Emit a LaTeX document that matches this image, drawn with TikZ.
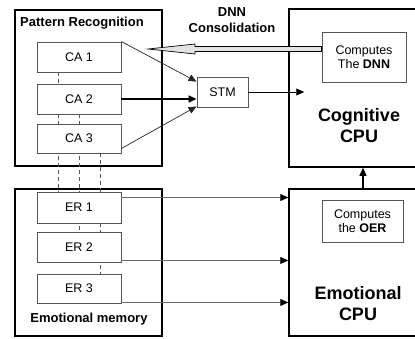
\documentclass[tikz,border=0pt]{standalone}
\usepackage{fontspec}
\setmainfont{Liberation Sans}
\usetikzlibrary{calc,arrows.meta}
\definecolor{linegray}{HTML}{555555}
\definecolor{arrgray}{HTML}{6A6A6A}
\tikzset{
  outerbox/.style={draw=black, line width=1.5pt, fill=white, inner sep=0pt},
  innerbox/.style={draw=linegray, line width=0.9pt, fill=white, inner sep=0pt,
     font=\fontsize{12.5}{14.5}\selectfont},
  boldlabel/.style={font=\bfseries\fontsize{13}{15}\selectfont, inner sep=0pt},
  biglabel/.style={font=\bfseries\fontsize{18}{21}\selectfont, align=center, inner sep=0pt},
  tip/.style={-{Triangle[length=8pt,width=7pt]}},
  graytip/.style={-{Triangle[length=8pt,width=7pt,color=black]}},
  dashv/.style={draw=linegray, line width=0.7pt, dash pattern=on 4pt off 3pt},
}
\begin{document}
\begin{tikzpicture}[x=1pt,y=-1pt]
\useasboundingbox (0,0) rectangle (415,338);
\clip (0,0) rectangle (415,338);
% outer boxes
\node[outerbox, minimum width=147pt, minimum height=156pt] (PR) at (88.5,88) {};
\node[outerbox, minimum width=147pt, minimum height=147pt] (EM) at (88.5,262.5) {};
\node[outerbox, minimum width=127pt, minimum height=158pt] (Cog) at (352.5,88) {};
\node[outerbox, minimum width=127pt, minimum height=147pt] (Emo) at (352.5,262.5) {};
% dashed links (behind inner boxes)
\draw[dashv] (58,72) -- (58,192);
\draw[dashv] (79,114) -- (79,232);
\draw[dashv] (100,153) -- (100,274);
% inner boxes
\node[innerbox, minimum width=84pt, minimum height=30pt] (CA1) at (79,57) {CA 1};
\node[innerbox, minimum width=84pt, minimum height=30pt] (CA2) at (79,99) {CA 2};
\node[innerbox, minimum width=84pt, minimum height=29pt] (CA3) at (79,138.5) {CA 3};
\node[innerbox, minimum width=84pt, minimum height=31pt] (ER1) at (79,207.5) {ER 1};
\node[innerbox, minimum width=84pt, minimum height=30pt] (ER2) at (79,247) {ER 2};
\node[innerbox, minimum width=84pt, minimum height=29pt] (ER3) at (79,288.5) {ER 3};
\node[innerbox, minimum width=51pt, minimum height=30pt] (STM) at (222.5,92) {STM};
\node[innerbox, minimum width=84pt, minimum height=50pt, align=center] (DNNbox) at (364,57) {Computes\\The \textbf{DNN}};
\node[innerbox, minimum width=81pt, minimum height=42pt, align=center] (OERbox) at (362.5,221) {Computes\\the \textbf{OER}};
% labels
\node[boldlabel] (PRlabel) at (82,23) {Pattern Recognition};
\node[boldlabel] (EMlabel) at (89,319) {Emotional memory};
\node[boldlabel, align=center, font=\bfseries\fontsize{13}{16}\selectfont] (DNNlabel) at (232,20) {DNN\\Consolidation};
\node[biglabel] (Coglabel) at (359,126) {Cognitive\\CPU};
\node[biglabel] (Emolabel) at (358,304) {Emotional\\CPU};
% DNN consolidation hollow arrow
\coordinate (dnnstart) at ($(DNNbox.west)+(0,-8)$);
\filldraw[fill=gray!22, draw=black, line width=0.7pt]
  ($(dnnstart)+(0,-2.5)$) -- (195,46.5) -- (195,44) -- (148,49) -- (195,54) -- (195,51.5) -- ($(dnnstart)+(0,2.5)$) -- cycle;
% CA -> STM
\draw[tip, line width=0.7pt, draw=black!85] (CA1.north east) -- ($(STM.north west)+(0,5)$);
\draw[tip, line width=1.6pt] (CA2.east) -- (STM.west |- CA2.east);
\draw[tip, line width=0.7pt, draw=black!85] ($(CA3.south east)+(0,-5)$) -- ($(STM.south west)+(0,-1)$);
% STM -> Cognitive
\draw[tip, line width=0.7pt] (STM.east) -- ($(STM.east -| Cog.west)+(16,0)$);
% ER -> Emotional CPU
\draw[graytip, line width=0.9pt, draw=arrgray] ($(ER1.north east)+(0,6)$) coordinate (e1) -- (e1 -| Emo.west);
\draw[graytip, line width=0.9pt, draw=arrgray] ($(ER2.south east)+(0,-2)$) coordinate (e2) -- (e2 -| Emo.west);
\draw[graytip, line width=0.9pt, draw=arrgray] ($(ER3.south east)+(0,-1)$) coordinate (e3) -- (e3 -| Emo.west);
% Emotional -> Cognitive
\draw[tip, line width=1.2pt] ($(Emo.north)+(10.5,0)$) -- ($(Cog.south)+(10.5,0)$);
\end{tikzpicture}
\end{document}
